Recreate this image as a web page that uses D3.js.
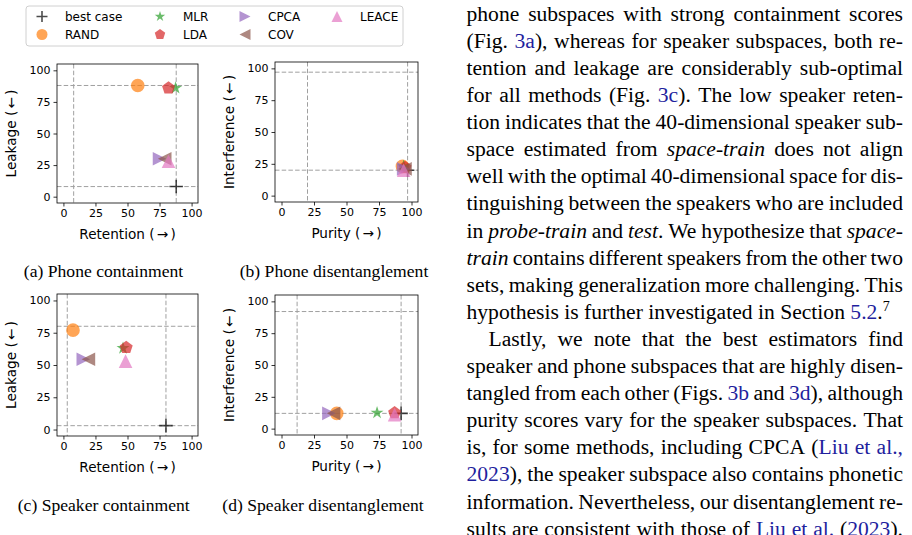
<!DOCTYPE html>
<html>
<head>
<meta charset="utf-8">
<script src="https://cdn.jsdelivr.net/npm/d3@7"></script>
<style>
  body { margin: 0; background: #fff; }
  svg { display: block; }
  .tick text { font-family: "DejaVu Sans", sans-serif; font-size: 11px; fill: #000; }
  .tick line { stroke: #000; stroke-width: 0.8; }
</style>
</head>
<body>
<svg id="fig" width="912" height="535"></svg>
<script>
// methods, in legend order
var methods = ["best case", "RAND", "MLR", "LDA", "CPCA", "COV", "LEACE"];
var colors = ["#000000", "#ff7f0e", "#2ca02c", "#d62728", "#9467bd", "#8c564b", "#e377c2"];
var markers = ["plus", "circle", "star", "pentagon", "right", "left", "up"];

// values (same order as methods)
var phoneContX = [88, 58, 87.5, 82, 75, 79, 82];
var phoneContY = [8, 88, 86, 86, 30, 30, 28];
var phoneDisX = [97, 93, 94, 95, 94, 95, 94];
var phoneDisY = [20, 23, 23, 22, 21, 21, 20];
var speakerContX = [80, 7.5, 46.5, 49, 15.5, 19.5, 48.5];
var speakerContY = [3, 77, 63, 63.5, 54.5, 54.5, 53];
var speakerDisX = [92, 42.5, 73.5, 87, 36.5, 40, 87];
var speakerDisY = [12, 12, 12.5, 12.5, 12, 12, 11];

// dashed reference levels [worst, best]
var phoneContRef = [8, 88];
var phoneDisRef = [20, 97];
var speakerContRef = [3, 80];
var speakerDisRef = [12, 92];

var ticks = [0, 25, 50, 75, 100];

var panels = [
  { x: phoneContX, y: phoneContY, ref: phoneContRef, xl: "Retention", yl: "Leakage",
    box: [57, 64, 198, 203], caption: "(a) Phone containment", cx: 103.5, cy: 277 },
  { x: phoneDisX, y: phoneDisY, ref: phoneDisRef, xl: "Purity", yl: "Interference",
    box: [275, 62, 418, 202], caption: "(b) Phone disentanglement", cx: 334, cy: 277 },
  { x: speakerContX, y: speakerContY, ref: speakerContRef, xl: "Retention", yl: "Leakage",
    box: [57, 294, 198, 436], caption: "(c) Speaker containment", cx: 103.7, cy: 510.5 },
  { x: speakerDisX, y: speakerDisY, ref: speakerDisRef, xl: "Purity", yl: "Interference",
    box: [275, 295, 418, 435], caption: "(d) Speaker disentanglement", cx: 323, cy: 510.5 }
];

var svg = d3.select("#fig");

function markerPath(type, r) {
  var pts, i, a;
  if (type === "circle") return d3.symbol(d3.symbolCircle, Math.PI * r * r)();
  if (type === "plus") return "M" + (-r) + ",0H" + r + "M0," + (-r) + "V" + r;
  if (type === "up") pts = [[0, -r], [-r, r], [r, r]];
  if (type === "right") pts = [[r, 0], [-r, -r], [-r, r]];
  if (type === "left") pts = [[-r, 0], [r, -r], [r, r]];
  if (type === "pentagon") {
    pts = [];
    for (i = 0; i < 5; i++) { a = -Math.PI / 2 + i * 2 * Math.PI / 5; pts.push([r * Math.cos(a), r * Math.sin(a)]); }
  }
  if (type === "star") {
    pts = [];
    for (i = 0; i < 10; i++) {
      a = -Math.PI / 2 + i * Math.PI / 5;
      var rr = i % 2 ? r * 0.382 : r;
      pts.push([rr * Math.cos(a), rr * Math.sin(a)]);
    }
  }
  return "M" + pts.map(function (p) { return p[0].toFixed(2) + "," + p[1].toFixed(2); }).join("L") + "Z";
}

function drawMarker(g, i, px, py, r) {
  var p = g.append("path")
    .attr("d", markerPath(markers[i], r))
    .attr("transform", "translate(" + px + "," + py + ")");
  if (markers[i] === "plus") {
    p.attr("fill", "none").attr("stroke", colors[i]).attr("stroke-width", 1.6).attr("stroke-opacity", 0.7);
  } else {
    p.attr("fill", colors[i]).attr("fill-opacity", 0.7);
  }
}

panels.forEach(function (pn) {
  var b = pn.box;
  var x = d3.scaleLinear().domain([-5, 105]).range([b[0], b[2]]);
  var y = d3.scaleLinear().domain([-5, 105]).range([b[3], b[1]]);
  var g = svg.append("g");

  // dashed reference lines
  pn.ref.forEach(function (v) {
    g.append("line").attr("x1", x(v)).attr("x2", x(v)).attr("y1", b[1]).attr("y2", b[3])
      .attr("stroke", "#a0a0a0").attr("stroke-width", 1).attr("stroke-dasharray", "4.5,2.2");
    g.append("line").attr("x1", b[0]).attr("x2", b[2]).attr("y1", y(v)).attr("y2", y(v))
      .attr("stroke", "#a0a0a0").attr("stroke-width", 1).attr("stroke-dasharray", "4.5,2.2");
  });

  // points
  methods.forEach(function (m, i) {
    drawMarker(g, i, x(pn.x[i]), y(pn.y[i]), 6.8);
  });

  // axes
  var xa = g.append("g").attr("transform", "translate(0," + b[3] + ")")
    .call(d3.axisBottom(x).tickValues(ticks).tickSize(3.5).tickPadding(3).tickSizeOuter(0));
  var ya = g.append("g").attr("transform", "translate(" + b[0] + ",0)")
    .call(d3.axisLeft(y).tickValues(ticks).tickSize(3.5).tickPadding(3).tickSizeOuter(0));
  xa.select(".domain").remove();
  ya.select(".domain").remove();

  g.append("rect").attr("x", b[0]).attr("y", b[1]).attr("width", b[2] - b[0]).attr("height", b[3] - b[1])
    .attr("fill", "none").attr("stroke", "#000").attr("stroke-width", 0.8);

  g.append("text")
    .attr("x", (b[0] + b[2]) / 2).attr("y", b[3] + 36)
    .attr("text-anchor", "middle")
    .style("font-family", "DejaVu Sans, sans-serif").style("font-size", "13.6px")
    .text(pn.xl + " (\u2006\u2192\u2006)");
  g.append("text")
    .attr("transform", "translate(" + (b[0] - 41) + "," + ((b[1] + b[3]) / 2) + ") rotate(-90)")
    .attr("text-anchor", "middle")
    .style("font-family", "DejaVu Sans, sans-serif").style("font-size", "13.6px")
    .text(pn.yl + " (\u2006\u2190\u2006)");

  svg.append("text")
    .attr("x", pn.cx).attr("y", pn.cy)
    .attr("text-anchor", "middle")
    .style("font-family", "Liberation Serif, serif").style("font-size", "17.6px")
    .text(pn.caption);
});

// legend
var lg = svg.append("g");
lg.append("rect").attr("x", 26).attr("y", 6).attr("width", 377).attr("height", 40).attr("rx", 3)
  .attr("fill", "#fff").attr("stroke", "#d0d0d0").attr("stroke-width", 1);
var legCol = [42, 160, 245, 337];
var legRow = [16.5, 34.5];
methods.forEach(function (m, i) {
  var c = Math.floor(i / 2), rw = i % 2;
  var mx = legCol[c], my = legRow[rw];
  drawMarker(lg, i, mx, my, 5.5);
  lg.append("text").attr("x", mx + 23).attr("y", my + 4.2)
    .style("font-family", "DejaVu Sans, sans-serif").style("font-size", "12px")
    .text(m);
});

// body text on the right
var bodyLines = [
  "phone subspaces with strong containment scores",
  "(Fig. {3a}), whereas for speaker subspaces, both re-",
  "tention and leakage are considerably sub-optimal",
  "for all methods (Fig. {3c}). The low speaker reten-",
  "tion indicates that the 40-dimensional speaker sub-",
  "space estimated from _space-train_ does not align",
  "well with the optimal 40-dimensional space for dis-",
  "tinguishing between the speakers who are included",
  "in _probe-train_ and _test_. We hypothesize that _space-_",
  "_train_ contains different speakers from the other two",
  "sets, making generalization more challenging. This",
  "hypothesis is further investigated in Section {5.2}.^7",
  "Lastly, we note that the best estimators find",
  "speaker and phone subspaces that are highly disen-",
  "tangled from each other (Figs. {3b} and {3d}), although",
  "purity scores vary for the speaker subspaces. That",
  "is, for some methods, including CPCA ({Liu} {et} {al.,}",
  "{2023}), the speaker subspace also contains phonetic",
  "information. Nevertheless, our disentanglement re-",
  "sults are consistent with those of {Liu} {et} {al.} ({2023})."
];
var raggedLines = [11];
var indentLines = [12];

var left = 466.5, right = 903, top0 = 20.7, lead = 27.1, fs = 21.6;
var tg = svg.append("g").style("font-family", "Liberation Serif, serif").style("font-size", fs + "px");

bodyLines.forEach(function (ln, li) {
  var words = ln.split(" ");
  var y0 = top0 + li * lead;
  var x0 = left + (indentLines.indexOf(li) >= 0 ? 22 : 0);
  var nodes = words.map(function (w) {
    var t = tg.append("text").attr("y", y0);
    w.split(/(\{[^}]*\}|_[^_]*_|\^\S+)/).forEach(function (s) {
      if (!s) return;
      if (s[0] === "{") t.append("tspan").attr("fill", "#1f1f9e").text(s.slice(1, -1));
      else if (s[0] === "_") t.append("tspan").style("font-style", "italic").text(s.slice(1, -1));
      else if (s[0] === "^") t.append("tspan").attr("dy", -8).style("font-size", "14px").text(s.slice(1));
      else t.append("tspan").text(s);
    });
    return t;
  });
  var widths = nodes.map(function (t) { return t.node().getComputedTextLength(); });
  var total = d3.sum(widths);
  var gap = raggedLines.indexOf(li) >= 0 ? fs * 0.25 : (right - x0 - total) / (words.length - 1);
  var cx = x0;
  nodes.forEach(function (t, k) { t.attr("x", cx); cx += widths[k] + gap; });
});
</script>
</body>
</html>
